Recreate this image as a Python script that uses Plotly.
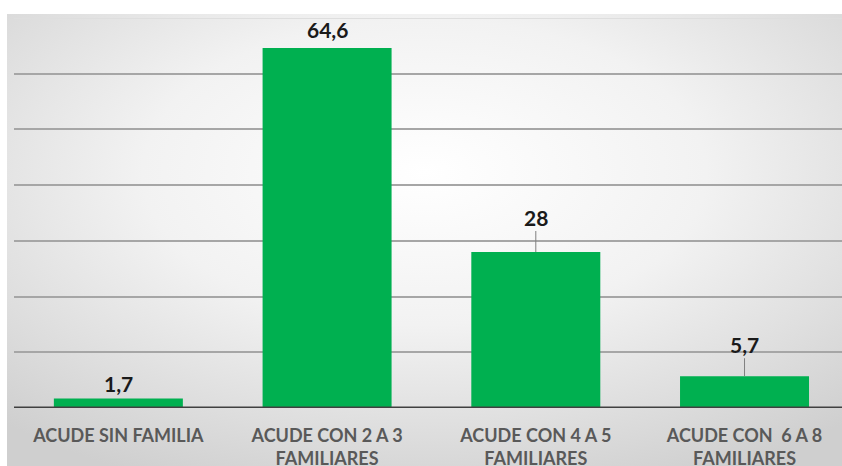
import base64
import plotly.graph_objects as go

categories = ["ACUDE SIN FAMILIA", "ACUDE CON 2 A 3<br>FAMILIARES",
              "ACUDE CON 4 A 5<br>FAMILIARES", "ACUDE CON  6 A 8<br>FAMILIARES"]
values = [1.7, 64.6, 28, 5.7]
grid_vals = [10, 20, 30, 40, 50, 60]

# label offsets (pixels) and whether a leader line is drawn
label_offsets = [15, 19, -35, -32]
leader = [False, False, True, True]

GREEN = "#00B050"
FONT = "Lato"

x_idx = list(range(len(categories)))

fig = go.Figure()
fig.add_trace(go.Bar(
    x=x_idx, y=values, marker=dict(color=GREEN, line=dict(width=0)),
    hoverinfo="skip", showlegend=False,
))

W, H = 842, 466
ml, mr, mt, mb = 14, 0, 18, 58
pw, ph = W - ml - mr, H - mt - mb

# background gradient (svg data uri)
svg = ('<svg xmlns="http://www.w3.org/2000/svg" width="835" height="452" viewBox="0 0 835 452" '
       'preserveAspectRatio="none"><defs><radialGradient id="g" cx="50%" cy="35%" r="75%">'
       '<stop offset="0" stop-color="#ffffff"/><stop offset="0.45" stop-color="#f2f2f2"/>'
       '<stop offset="1" stop-color="#cfcfcf"/></radialGradient></defs>'
       '<rect width="835" height="452" fill="url(#g)"/></svg>')
src = "data:image/svg+xml;base64," + base64.b64encode(svg.encode()).decode()

bg_left, bg_top = 7, 14
fig.add_layout_image(dict(
    source=src, xref="paper", yref="paper",
    x=(bg_left - ml) / pw, y=(H - mb - bg_top) / ph,
    sizex=(W - bg_left) / pw, sizey=(H - bg_top) / ph,
    xanchor="left", yanchor="top", sizing="stretch", layer="below",
))

annotations = []
for i, v in enumerate(values):
    txt = f"{v:g}".replace(".", ",")
    font = dict(family=FONT, size=21, color="#1a1a1a", weight="bold")
    if leader[i]:
        annotations.append(dict(
            x=i, y=v, xref="x", yref="y", text=txt, showarrow=True,
            arrowhead=0, arrowwidth=1, arrowcolor="#7f7f7f", ax=0, ay=label_offsets[i],
            standoff=0, font=font,
        ))
    else:
        annotations.append(dict(
            x=i, y=v, xref="x", yref="y", text=txt, showarrow=False,
            yanchor="middle", yshift=label_offsets[i], font=font,
        ))

fig.update_layout(
    width=W, height=H,
    margin=dict(l=ml, r=mr, t=mt, b=mb, pad=0, autoexpand=False),
    paper_bgcolor="white", plot_bgcolor="rgba(0,0,0,0)",
    bargap=0.382,
    annotations=annotations,
    shapes=[
        dict(type="line", xref="paper", yref="y", x0=0, x1=1, y0=70, y1=70,
             line=dict(color="#dedede", width=2), layer="below"),
        dict(type="line", xref="paper", yref="y", x0=0, x1=1, y0=0, y1=0,
             line=dict(color="#404040", width=3), layer="above"),
    ],
    xaxis=dict(
        range=[-0.5, 3.467], tickvals=x_idx, ticktext=categories,
        showgrid=False, showline=False, zeroline=False, ticks="",
        ticklabelstandoff=15, automargin=False,
        tickfont=dict(family=FONT, size=18, color="#595959", weight="bold"),
    ),
    yaxis=dict(
        range=[0, 70], tickvals=grid_vals, showticklabels=False,
        showgrid=True, gridcolor="#a6a6a6", gridwidth=1.5,
        zeroline=False, showline=False, automargin=False,
    ),
)

fig.write_html(
    "out.html",
    config={"displayModeBar": False},
    post_script="document.body.style.margin='0';document.body.style.overflow='hidden';",
)
